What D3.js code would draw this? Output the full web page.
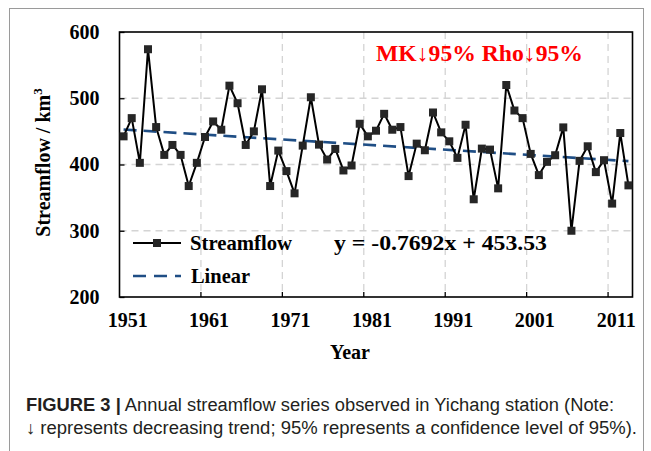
<!DOCTYPE html>
<html><head><meta charset="utf-8">
<script src="https://cdn.jsdelivr.net/npm/d3@7"></script>
<style>
html,body{margin:0;padding:0;background:#fff;}
svg{display:block;}
</style></head>
<body>
<svg id="chart" width="651" height="451"></svg>
<script>
// ---- data ----
const years = d3.range(1951, 2014);
const streamflow = [
  442.5, 470, 402.5, 574, 456.5, 414.5, 429.5, 414.5, 367.5, 402.5,
  441.5, 465, 452.5, 519, 492.5, 429.5, 450, 513.5, 367.5, 421,
  390, 356.5, 428.5, 501.5, 430, 407.5, 423.5, 391, 398.5, 461.5,
  442.5, 451, 476.5, 452.5, 456.5, 382.5, 431.5, 421.5, 478.5, 448.5,
  435, 410, 460, 347.5, 424, 422.5, 364, 520, 481.5, 470,
  416, 384, 404, 414, 456, 300, 405.5, 427.5, 388.5, 406.5,
  341, 447.5, 368.5
];
const trendSlope = -0.7692;
const trendIntercept = 453.53;
const yTicks = [200, 300, 400, 500, 600];
const xTickYears = [1951, 1961, 1971, 1981, 1991, 2001, 2011];
const seriesNames = ["Streamflow", "Linear"];
const equationText = "y = -0.7692x + 453.53";
const annotationText = "MK\u219395% Rho\u219395%";
const captionBold = "FIGURE 3 |";
const captionLine1 = " Annual streamflow series observed in Yichang station (Note:";
const captionLine2 = "\u2193 represents decreasing trend; 95% represents a confidence level of 95%).";

// ---- layout ----
const svg = d3.select("#chart");
const L = 119.5, R = 632.5, T = 32, B = 297;
const serif = "'Liberation Serif','Times New Roman',serif";

// outer frame
svg.append("rect").attr("x", 9.5).attr("y", 8.5).attr("width", 634).attr("height", 460)
  .attr("fill", "none").attr("stroke", "#9a9a9a").attr("stroke-width", 1);

const x = d3.scaleBand().domain(years).range([L, R]).padding(0);
const bw = x.bandwidth();
const cx = yr => x(yr) + bw / 2;
const y = d3.scaleLinear().domain([200, 600]).range([B, T]);

// gridlines
const grid = svg.append("g");
grid.selectAll("line.h").data(yTicks.filter(v => v > 200 && v < 600)).join("line")
  .attr("x1", L).attr("x2", R).attr("y1", d => y(d)).attr("y2", d => y(d))
  .attr("stroke", "#d4d4d4").attr("stroke-width", 1.3).attr("stroke-dasharray", "7,5");
grid.selectAll("line.v").data(xTickYears.filter(v => v > 1951)).join("line")
  .attr("x1", d => x(d)).attr("x2", d => x(d)).attr("y1", T).attr("y2", B)
  .attr("stroke", "#d4d4d4").attr("stroke-width", 1.3).attr("stroke-dasharray", "7,5");

// axes (ticks inside)
const yAxis = d3.axisLeft(y).tickValues(yTicks).tickSize(-5).tickPadding(20).tickFormat(d3.format("d"));
const gy = svg.append("g").attr("transform", `translate(${L},0)`).call(yAxis);
gy.select(".domain").remove();
gy.selectAll("text").attr("font-family", serif).attr("font-weight", "bold")
  .attr("font-size", 20).attr("fill", "#000");
gy.selectAll("line").attr("stroke", "#000").attr("stroke-width", 1.3);

const xAxis = d3.axisBottom(x).tickValues(xTickYears).tickSize(0).tickPadding(16).tickFormat(d => String(d));
const gx = svg.append("g").attr("transform", `translate(${bw/2},${B})`).call(xAxis);
gx.select(".domain").remove();
gx.selectAll("text").attr("font-family", serif).attr("font-weight", "bold")
  .attr("font-size", 20).attr("fill", "#000");
// x tick marks at category boundaries
svg.append("g").selectAll("line").data(xTickYears.filter(v => v > 1951)).join("line")
  .attr("x1", d => x(d)).attr("x2", d => x(d)).attr("y1", B).attr("y2", B - 5)
  .attr("stroke", "#000").attr("stroke-width", 1.3);

// plot border
svg.append("rect").attr("x", L).attr("y", T).attr("width", R - L).attr("height", B - T)
  .attr("fill", "none").attr("stroke", "#000").attr("stroke-width", 1.6);

// trend line
const trendPts = [1, years.length].map(i => [cx(years[i - 1]), y(trendSlope * i + trendIntercept)]);
svg.append("path").attr("d", d3.line()(trendPts)).attr("fill", "none")
  .attr("stroke", "#1f4e85").attr("stroke-width", 2.6).attr("stroke-dasharray", "13,7");

// streamflow line
const data = years.map((yr, i) => ({ yr, v: streamflow[i] }));
svg.append("path").datum(data)
  .attr("d", d3.line().x(d => cx(d.yr)).y(d => y(d.v)))
  .attr("fill", "none").attr("stroke", "#000").attr("stroke-width", 2).attr("stroke-linejoin", "round");
const ms = 8;
svg.append("g").selectAll("rect").data(data).join("rect")
  .attr("x", d => cx(d.yr) - ms / 2).attr("y", d => y(d.v) - ms / 2)
  .attr("width", ms).attr("height", ms).attr("fill", "#262626");

// legend
const lg = svg.append("g");
lg.append("line").attr("x1", 133).attr("x2", 181).attr("y1", 243).attr("y2", 243)
  .attr("stroke", "#000").attr("stroke-width", 2);
lg.append("rect").attr("x", 157 - ms / 2).attr("y", 243 - ms / 2).attr("width", ms).attr("height", ms).attr("fill", "#262626");
lg.append("text").attr("x", 190).attr("y", 250).text(seriesNames[0])
  .attr("font-family", serif).attr("font-weight", "bold").attr("font-size", 21)
  .attr("textLength", 102).attr("lengthAdjust", "spacingAndGlyphs");
lg.append("line").attr("x1", 133).attr("x2", 181).attr("y1", 276).attr("y2", 276)
  .attr("stroke", "#1f4e85").attr("stroke-width", 2.6).attr("stroke-dasharray", "13,8");
lg.append("text").attr("x", 191).attr("y", 283).text(seriesNames[1])
  .attr("font-family", serif).attr("font-weight", "bold").attr("font-size", 21)
  .attr("textLength", 59).attr("lengthAdjust", "spacingAndGlyphs");

// equation
svg.append("text").attr("x", 334).attr("y", 250).text(equationText)
  .attr("font-family", serif).attr("font-weight", "bold").attr("font-size", 21)
  .attr("textLength", 213).attr("lengthAdjust", "spacingAndGlyphs");

// annotation
svg.append("text").attr("x", 376).attr("y", 61).text(annotationText)
  .attr("font-family", serif).attr("font-weight", "bold").attr("font-size", 23).attr("fill", "#ff0000")
  .attr("textLength", 207).attr("lengthAdjust", "spacingAndGlyphs");

// axis titles
svg.append("text").attr("x", 350).attr("y", 359).attr("text-anchor", "middle").text("Year")
  .attr("font-family", serif).attr("font-weight", "bold").attr("font-size", 20);
const yt = svg.append("text").attr("transform", `translate(50,${(T + B) / 2 - 2}) rotate(-90)`)
  .attr("text-anchor", "middle").attr("font-family", serif).attr("font-weight", "bold").attr("font-size", 20);
yt.append("tspan").text("Streamflow / km");
yt.append("tspan").text("3").attr("font-size", 13).attr("dy", -8);

// caption
const sans = "'Liberation Sans Narrow','Liberation Sans',Arial,sans-serif";
const c1 = svg.append("text").attr("x", 26).attr("y", 411).attr("font-family", sans).attr("font-size", 18)
  .attr("fill", "#231f20").attr("textLength", 588).attr("lengthAdjust", "spacingAndGlyphs");
c1.append("tspan").text(captionBold).attr("font-weight", "bold");
c1.append("tspan").text(captionLine1);
svg.append("text").attr("x", 26).attr("y", 434).attr("font-family", sans).attr("font-size", 18)
  .attr("fill", "#231f20").attr("textLength", 611).attr("lengthAdjust", "spacingAndGlyphs").text(captionLine2);
</script>
</body></html>
